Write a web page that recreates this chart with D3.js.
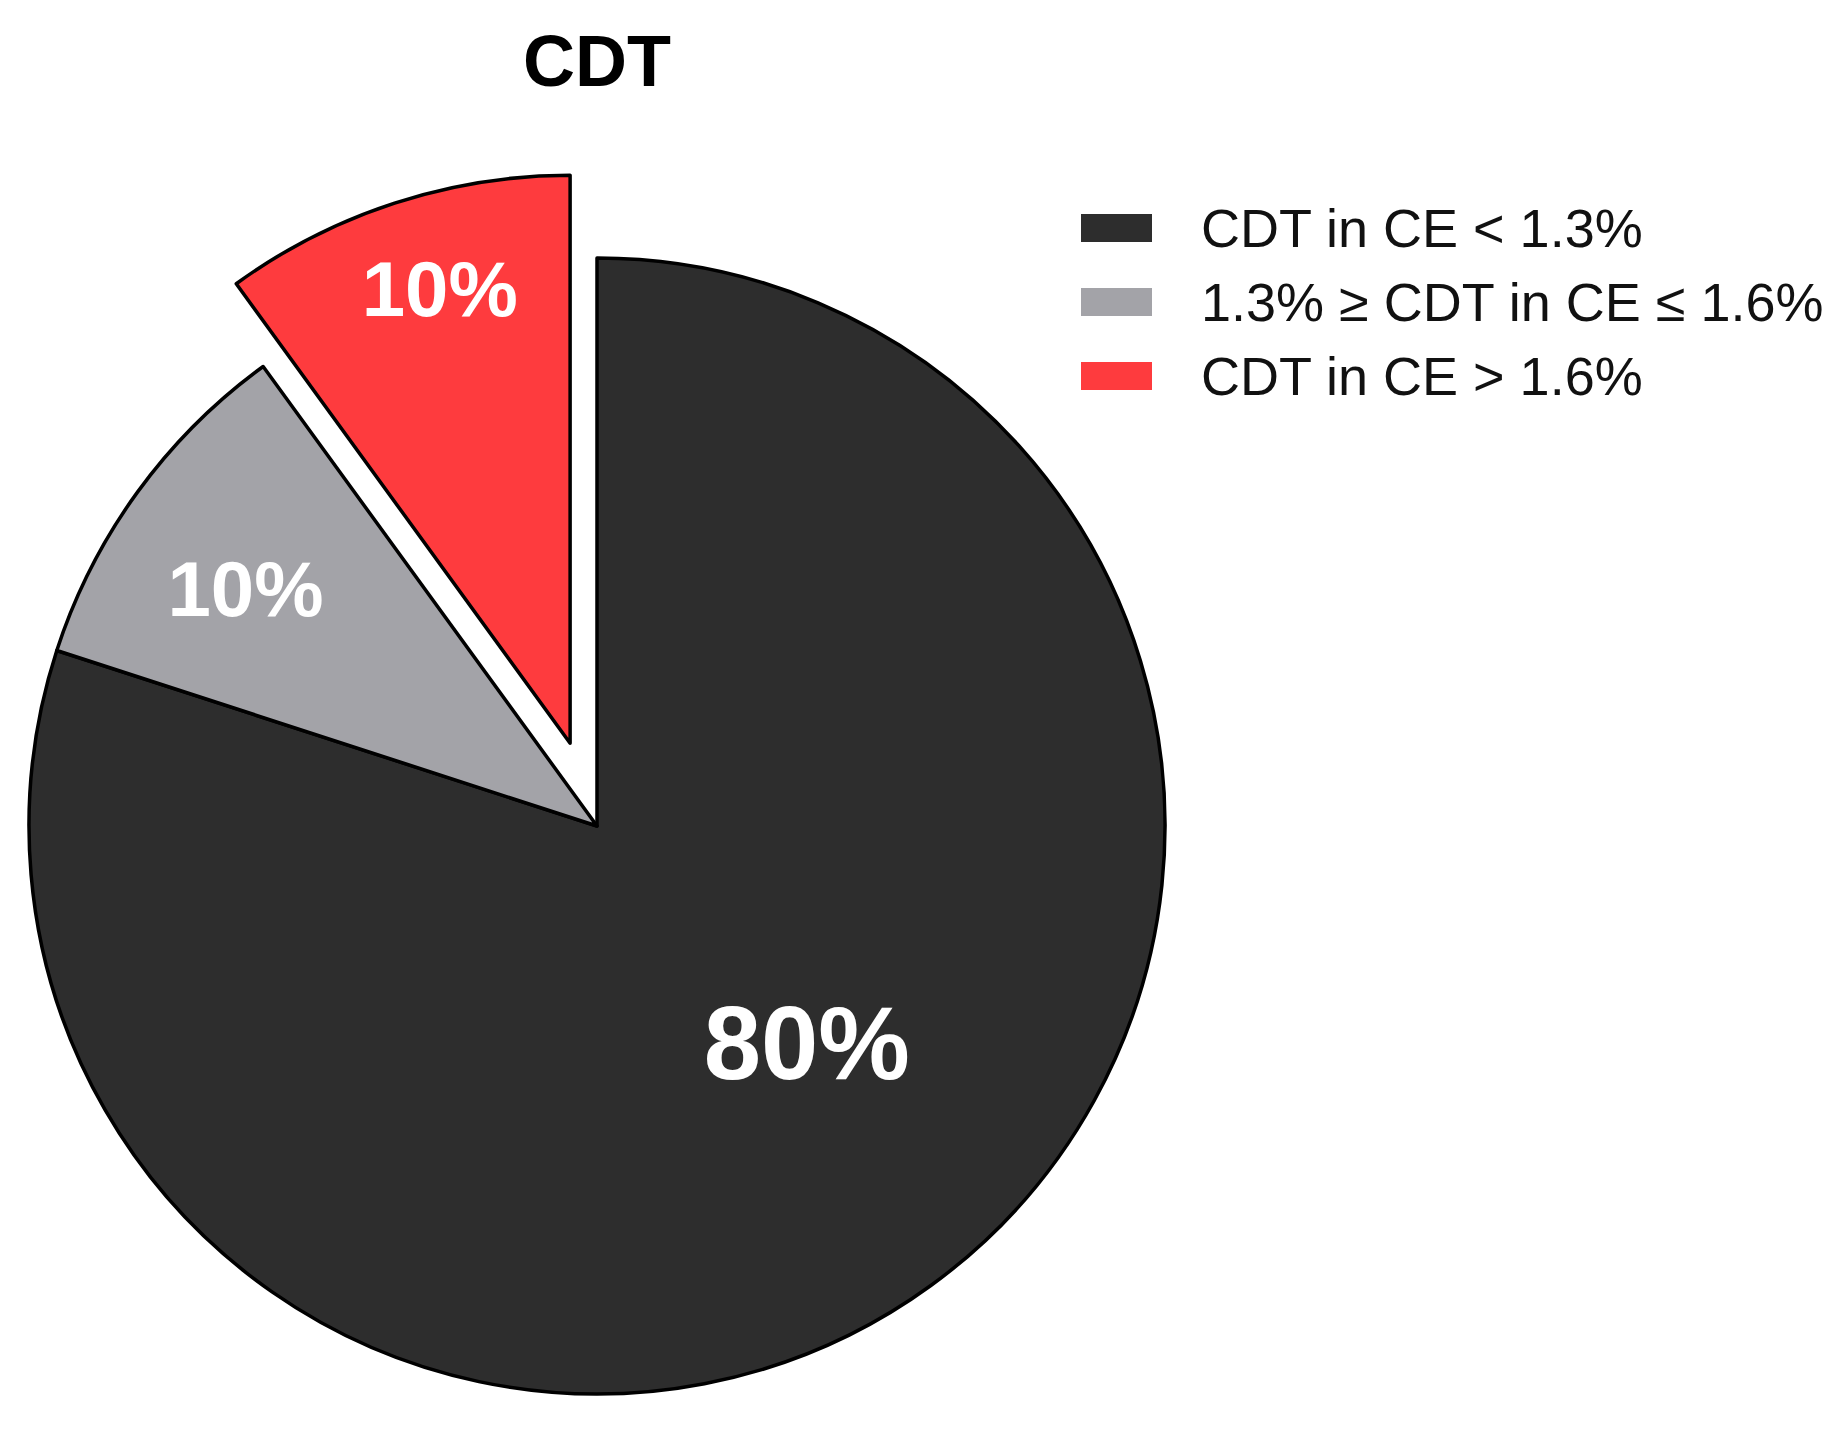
<!DOCTYPE html>
<html>
<head>
<meta charset="utf-8">
<script src="https://cdn.jsdelivr.net/npm/d3@7"></script>
<style>
  body { margin: 0; background: #fff; }
  text { font-family: "Liberation Sans", Arial, sans-serif; }
</style>
</head>
<body>
<div id="chart"></div>
<script>
// data
const categories = ["CDT in CE < 1.3%", "1.3% \u2265 CDT in CE \u2264 1.6%", "CDT in CE > 1.6%"];
const values = [80, 10, 10];
const labels = ["80%", "10%", "10%"];
const colors = ["#2d2d2d", "#a3a3a8", "#fe3b3e"];
const exploded = [false, false, true];

//set parameters
const width = 1843;
const height = 1440;
const cx = 597, cy = 826;
const radius = 568;
const explodeDist = 87;
// label placement per slice: radius and small angle tweak (degrees)
const labelR = [302, 424, 473];
const labelShift = [-8, -2, 2];
const labelSize = [103, 78, 78];

const svg = d3
  .select("#chart")
  .append("svg")
  .attr("width", width)
  .attr("height", height);

//title
svg
  .append("text")
  .attr("x", 597)
  .attr("y", 61)
  .attr("dy", "0.35em")
  .attr("text-anchor", "middle")
  .attr("font-size", 72)
  .attr("font-weight", "bold")
  .text("CDT");

const data = values.map((v, i) => ({
  category: categories[i],
  value: v,
  label: labels[i],
  color: colors[i],
  exploded: exploded[i],
  idx: i,
}));

const pie = d3.pie().sort(null).value((d) => d.value);
const arc = d3.arc().innerRadius(0).outerRadius(radius);
const arcs = pie(data);

const g = svg.append("g").attr("transform", `translate(${cx}, ${cy})`);

const offset = (d) => {
  if (!d.data.exploded) return [0, 0];
  const a = (d.startAngle + d.endAngle) / 2;
  return [explodeDist * Math.sin(a), -explodeDist * Math.cos(a)];
};

const slice = g
  .selectAll(".slice")
  .data(arcs)
  .enter()
  .append("g")
  .attr("class", "slice")
  .attr("transform", (d) => `translate(${offset(d)[0]}, ${offset(d)[1]})`);

slice
  .append("path")
  .attr("d", arc)
  .attr("fill", (d) => d.data.color)
  .attr("stroke", "#000")
  .attr("stroke-width", 3.5)
  .attr("stroke-linejoin", "round");

const labelAngle = (d) =>
  (d.startAngle + d.endAngle) / 2 + (labelShift[d.data.idx] * Math.PI) / 180;

slice
  .append("text")
  .attr("x", (d) => labelR[d.data.idx] * Math.sin(labelAngle(d)))
  .attr("y", (d) => -labelR[d.data.idx] * Math.cos(labelAngle(d)))
  .attr("dy", "0.35em")
  .attr("text-anchor", "middle")
  .attr("font-size", (d) => labelSize[d.data.idx])
  .attr("font-weight", "bold")
  .attr("fill", "#fff")
  .text((d) => d.data.label);

//legend
const legend = svg
  .append("g")
  .attr("transform", "translate(1081, 228)")
  .selectAll(".legend")
  .data(data)
  .enter()
  .append("g")
  .attr("class", "legend")
  .attr("transform", (d, i) => `translate(0, ${i * 74})`);

legend
  .append("rect")
  .attr("x", 0)
  .attr("y", -14)
  .attr("width", 71)
  .attr("height", 28)
  .attr("fill", (d) => d.color);

legend
  .append("text")
  .attr("x", 120)
  .attr("y", 0)
  .attr("dy", "0.35em")
  .attr("font-size", 54)
  .attr("fill", "#111")
  .text((d) => d.category);
</script>
</body>
</html>
